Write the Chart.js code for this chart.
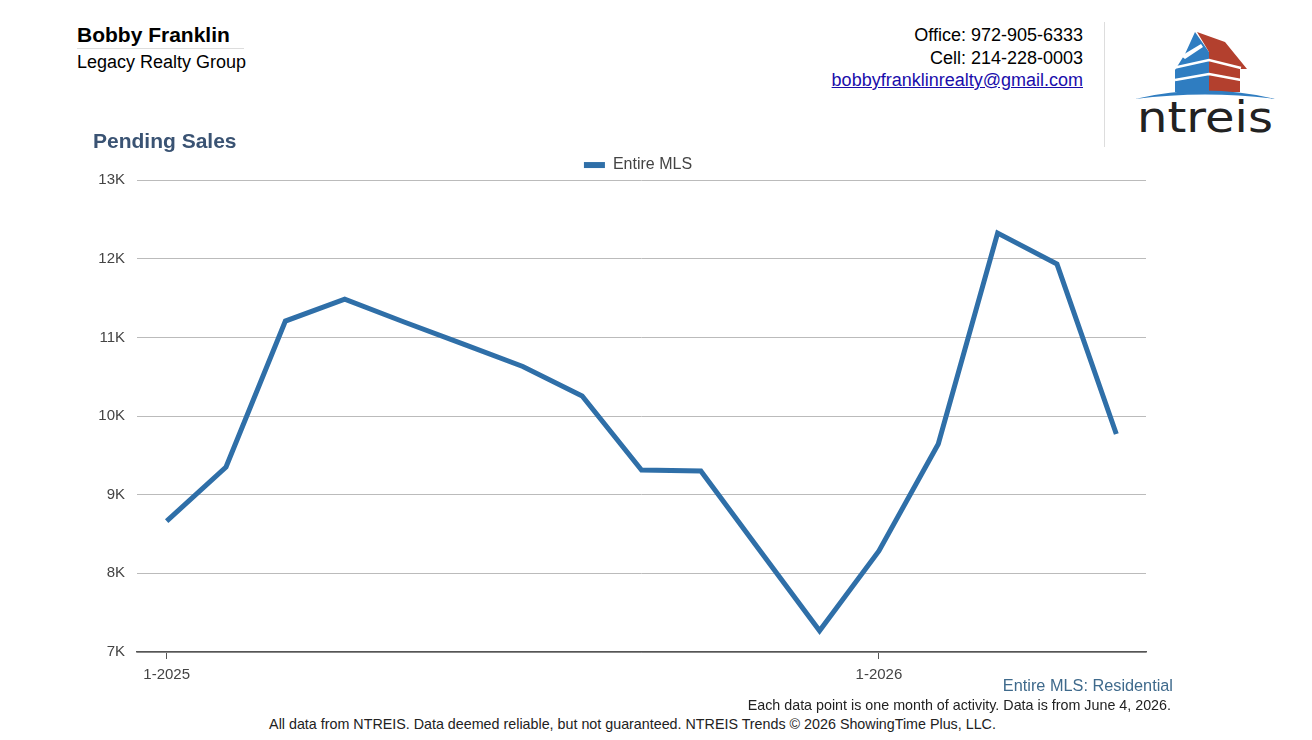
<!DOCTYPE html>
<html>
<head>
<meta charset="utf-8">
<script src="https://cdn.jsdelivr.net/npm/chart.js@4.4.1/dist/chart.umd.min.js"></script>
<style>
  body { margin: 0; width: 1312px; height: 740px; background: #fff; font-family: "Liberation Sans", Arial, sans-serif; position: relative; overflow: hidden; }
  .abs { position: absolute; white-space: nowrap; }
  #agent { left: 77px; top: 23px; font-size: 21px; font-weight: bold; color: #000; }
  #agentRule { left: 77px; top: 48px; width: 167px; height: 1px; background: #ddd; }
  #company { left: 77px; top: 52px; font-size: 18px; color: #000; }
  #contact { right: 229px; top: 24px; font-size: 18px; line-height: 22.5px; text-align: right; color: #000; }
  #contact a { color: #1a0dab; text-decoration: underline; }
  #divider { left: 1104px; top: 22px; width: 1px; height: 125px; background: #ddd; }
  #logo { left: 1125px; top: 22px; }
  #wrap { left: 90px; top: 127px; width: 1092px; height: 570px; }
  #subtitle { right: 139px; top: 676px; font-size: 16.3px; color: #3f6a8c; }
  #note { right: 141px; top: 697px; font-size: 14.3px; color: #222; }
  #footer { left: 0; width: 1265px; top: 716px; font-size: 14.3px; color: #222; text-align: center; }
</style>
</head>
<body>
<div class="abs" id="agent">Bobby Franklin</div>
<div class="abs" id="agentRule"></div>
<div class="abs" id="company">Legacy Realty Group</div>
<div class="abs" id="contact">Office: 972-905-6333<br>Cell: 214-228-0003<br><a href="#">bobbyfranklinrealty@gmail.com</a></div>
<div class="abs" id="divider"></div>
<svg class="abs" id="logo" width="160" height="120" viewBox="0 0 160 120">
  <polygon points="70,10 84,30 84,70 50,70 50,48 60,32" fill="#2f7dc1"/>
  <polygon points="72,10 100,20 122,47 115,47 115,70 84,70 84,30" fill="#b3402e"/>
  <polygon points="56,34 76,22 78,25 60,37" fill="#fff"/>
  <polyline points="48,46 84,38 116,46" fill="none" stroke="#fff" stroke-width="2.5"/>
  <polyline points="50,58 84,52 116,58" fill="none" stroke="#fff" stroke-width="2.5"/>
  <path d="M10,77 Q80,60 150,77 Q80,68 10,77 Z" fill="#2f7dc1"/>
  <text x="12" y="110" font-family="DejaVu Sans" font-size="42" textLength="136" lengthAdjust="spacingAndGlyphs" fill="#222">ntreis</text>
</svg>

<div class="abs" id="wrap"><canvas id="myChart"></canvas></div>

<div class="abs" id="subtitle">Entire MLS: Residential</div>
<div class="abs" id="note">Each data point is one month of activity. Data is from June 4, 2026.</div>
<div class="abs" id="footer">All data from NTREIS. Data deemed reliable, but not guaranteed. NTREIS Trends © 2026 ShowingTime Plus, LLC.</div>

<script>
const months = ["1-2025", "2-2025", "3-2025", "4-2025", "5-2025", "6-2025", "7-2025", "8-2025", "9-2025",
                "10-2025", "11-2025", "12-2025", "1-2026", "2-2026", "3-2026", "4-2026", "5-2026"];
const pendingSales = [8665, 9352, 11207, 11487, 11195, 10915, 10630, 10254, 9313,
                      9300, 8284, 7270, 8284, 9644, 12326, 11932, 9771];
const yTicks = [7000, 8000, 9000, 10000, 11000, 12000, 13000];

const lineColor = '#2f6fa8';
const textFont = "'Liberation Sans', Arial, sans-serif";

const ctx = document.getElementById('myChart').getContext('2d');

// nudge legend (right/down) and title (right) after layout
const shiftBlocks = {
    id: 'shiftBlocks',
    afterLayout(c) {
        if (c.legend) { c.legend.left += 20; c.legend.right += 20; c.legend.top += 3; c.legend.bottom += 3; }
        if (c.titleBlock) { c.titleBlock.left += 3; c.titleBlock.right += 3; }
    }
};

const chart = new Chart(ctx, {
    type: 'line',
    data: {
        labels: months,
        datasets: [
            { label: "Entire MLS", data: pendingSales, borderColor: lineColor, backgroundColor: lineColor,
              borderWidth: 5, pointRadius: 0, tension: 0, fill: false }
        ]
    },
    options: {
        responsive: true,
        maintainAspectRatio: false,
        animation: false,
        layout: { padding: { left: 0, right: 36, top: 0, bottom: 0 } },
        plugins: {
            title: {
                display: true, text: 'Pending Sales', align: 'start', color: '#3a5373',
                font: { family: textFont, size: 21, weight: 'bold', lineHeight: 1.05 },
                padding: { top: 4, bottom: 1 }
            },
            legend: {
                position: 'top',
                labels: {
                    color: '#444', font: { family: textFont, size: 16 },
                    boxWidth: 21, boxHeight: 6, padding: 0,
                    generateLabels: (c) => Chart.defaults.plugins.legend.labels.generateLabels(c)
                        .map(l => Object.assign(l, { lineWidth: 0 }))
                }
            },
            tooltip: { enabled: false }
        },
        scales: {
            x: {
                offset: true,
                grid: {
                    drawOnChartArea: false, offset: false, tickLength: 7,
                    color: (c) => (c.tick && String(months[c.index]).startsWith('1-')) ? '#555' : 'rgba(0,0,0,0)'
                },
                border: { color: '#555', width: 1.5 },
                ticks: {
                    autoSkip: false, maxRotation: 0, color: '#444', padding: 7,
                    font: { family: textFont, size: 15 },
                    callback: (v, i) => months[i].startsWith('1-') ? months[i] : ''
                },
                afterFit: (s) => { s.height = 45; }
            },
            y: {
                min: yTicks[0], max: yTicks[yTicks.length - 1],
                afterBuildTicks: (s) => { s.ticks = yTicks.map(v => ({ value: v })); },
                grid: { color: '#bbb', lineWidth: 1, drawTicks: false },
                border: { display: false },
                ticks: {
                    color: '#444', padding: 12, font: { family: textFont, size: 15 },
                    callback: (v) => (v / 1000) + 'K'
                },
                afterFit: (s) => { s.width = 47; }
            }
        }
    },
    plugins: [shiftBlocks]
});
</script>
</body>
</html>
